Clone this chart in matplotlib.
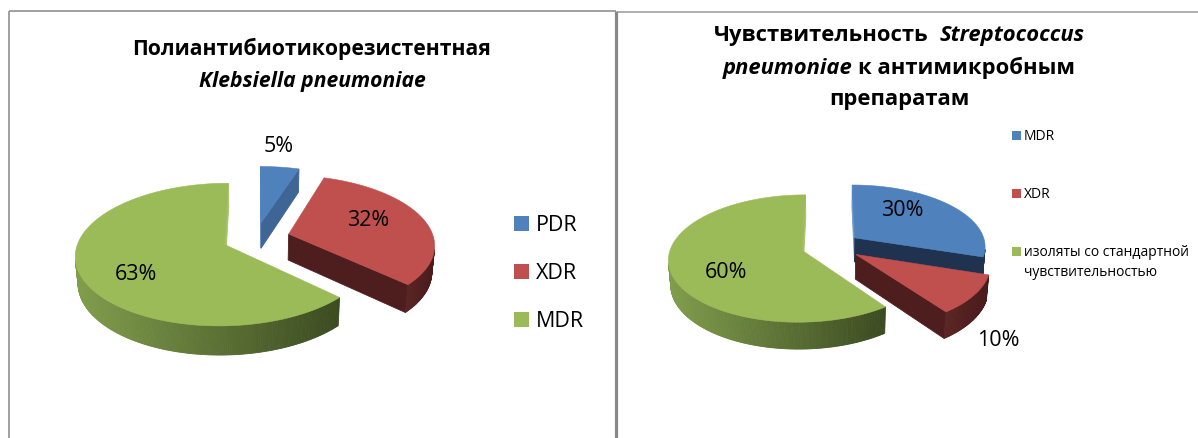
import numpy as np
import matplotlib
matplotlib.use("Agg")
import matplotlib.pyplot as plt
from matplotlib.patches import Polygon, Rectangle
from matplotlib.colors import to_rgb

plt.rcParams['font.family'] = ['Open Sans', 'DejaVu Sans']

# ---------------- data ----------------
kp_categories = ['PDR', 'XDR', 'MDR']
kp_values = [5, 32, 63]

sp_categories = ['MDR', 'XDR', 'изоляты со стандартной\nчувствительностью']
sp_values = [30, 10, 60]

# ---------------- style / layout ----------------
W, H = 1198, 438
ELEV = np.radians(28)
PERSP = 912.0

BLUE, RED, GREEN = '#4F81BD', '#C0504D', '#9BBB59'

left_geo = dict(cx=256, cy=238, r=145, explode=34, depth=30)
right_geo = dict(cx=831, cy=246, r=131, explode=30, depth=28)

# cut face colours: (start edge, end edge) of every slice
left_style = dict(
    top=[BLUE, RED, GREEN],
    side=[('#3E6595', '#3E6595'), ('#5A2424', '#4A1B1B'), ('#819E4C', '#3B4A20')],
    cut=[('#5A88C0', '#3E6595'), ('#4E1E1E', '#4E1E1E'), ('#3D4B22', '#A3C263')])
right_style = dict(
    top=[BLUE, RED, GREEN],
    side=[('#1F3350', '#1F3350'), ('#5A2424', '#4A1B1B'), ('#819E4C', '#3B4A20')],
    cut=[('#6A96CC', '#1F3350'), ('#4E1E1E', '#4E1E1E'), ('#3D4B22', '#A3C263')])

left_label_pos = [(279, 147), (368, 220), (136, 274)]
right_label_pos = [(902, 211), (998, 341), (726, 273)]
LABEL_SIZE = 15.5

fig = plt.figure(figsize=(W / 100, H / 100), dpi=100)
ax = fig.add_axes([0, 0, 1, 1])
ax.set_xlim(0, W)
ax.set_ylim(H, 0)
ax.axis('off')


def project(X, Y, Z, geo):
    s, c = np.sin(ELEV), np.cos(ELEV)
    depth = Y * c - Z * s
    f = PERSP / (PERSP + depth)
    return geo['cx'] + X * f, geo['cy'] - (Y * s + Z * c) * f


def lerp_color(c1, c2, t):
    a, b = np.array(to_rgb(c1)), np.array(to_rgb(c2))
    return tuple(a + (b - a) * t)


def draw_pie3d(ax, values, geo, style):
    s, c = np.sin(ELEV), np.cos(ELEV)
    cam = np.array([0.0, -PERSP * c, PERSP * s])
    R, E, T = geo['r'], geo['explode'], geo['depth']
    tot = float(sum(values))
    bounds = np.concatenate([[0], np.cumsum(values)]) / tot * 2 * np.pi
    slices = []
    for i in range(len(values)):
        t1, t2 = bounds[i], bounds[i + 1]
        mid = 0.5 * (t1 + t2)
        ox, oy = E * np.sin(mid), E * np.cos(mid)
        cdepth = (oy + 0.5 * R * np.cos(mid)) * c
        slices.append((cdepth, i, t1, t2, ox, oy))
    slices.sort(key=lambda q: -q[0])

    for _, i, t1, t2, ox, oy in slices:
        faces = []  # (depth, polygon, color)
        n = max(int(np.degrees(t2 - t1) * 1.5), 4)
        th = np.linspace(t1, t2, n + 1)
        strips = []
        for a, b in zip(th[:-1], th[1:]):
            m = 0.5 * (a + b)
            P = np.array([ox + R * np.sin(m), oy + R * np.cos(m), -T / 2])
            nrm = np.array([np.sin(m), np.cos(m), 0])
            if np.dot(nrm, cam - P) <= 0:
                continue
            xs, ys = [], []
            for (ang, z) in [(a, 0), (b, 0), (b, -T), (a, -T)]:
                px, py = project(ox + R * np.sin(ang), oy + R * np.cos(ang), z, geo)
                xs.append(px); ys.append(py)
            strips.append((P[1] * c - P[2] * s, np.c_[xs, ys]))
        if strips:
            xm = [np.mean(p[:, 0]) for _, p in strips]
            lo, hi = min(xm), max(xm)
            for (d, poly), x in zip(strips, xm):
                tt = 0 if hi == lo else (x - lo) / (hi - lo)
                faces.append((d, poly, lerp_color(style['side'][i][0], style['side'][i][1], tt)))
        for k, (ang, nrm) in enumerate([(t1, np.array([-np.cos(t1), np.sin(t1), 0])),
                                        (t2, np.array([np.cos(t2), -np.sin(t2), 0]))]):
            P = np.array([ox + 0.5 * R * np.sin(ang), oy + 0.5 * R * np.cos(ang), -T / 2])
            if np.dot(nrm, cam - P) <= 0:
                continue
            pts = [(ox, oy, 0), (ox + R * np.sin(ang), oy + R * np.cos(ang), 0),
                   (ox + R * np.sin(ang), oy + R * np.cos(ang), -T), (ox, oy, -T)]
            poly = np.array([project(*p, geo) for p in pts])
            faces.append((P[1] * c - P[2] * s, poly, style['cut'][i][k]))
        faces.sort(key=lambda q: -q[0])
        for _, poly, col in faces:
            ax.add_patch(Polygon(poly, closed=True, facecolor=col, edgecolor=col,
                                 linewidth=0.6, antialiased=True))
        tha = np.linspace(t1, t2, max(int(np.degrees(t2 - t1) * 2), 4))
        pts = [(ox, oy)] + [(ox + R * np.sin(a), oy + R * np.cos(a)) for a in tha]
        poly = np.array([project(x, y, 0, geo) for x, y in pts])
        ax.add_patch(Polygon(poly, closed=True, facecolor=style['top'][i],
                             edgecolor=style['top'][i], linewidth=0.4))


renderer = fig.canvas.get_renderer()


def text_width(txt, **kw):
    t = ax.text(0, 0, txt, **kw)
    bb = t.get_window_extent(renderer)
    t.remove()
    return bb.width


def rich_line(xc, y, pieces, size):
    widths, sp = [], []
    for txt, it, nsp in pieces:
        kw = dict(fontsize=size, fontweight='bold', fontstyle='italic' if it else 'normal')
        widths.append(text_width(txt, **kw))
        sp.append(nsp * (text_width('a a', **kw) - text_width('aa', **kw)))
    total = sum(widths) + sum(sp)
    x = xc - total / 2
    for (txt, it, nsp), w, g in zip(pieces, widths, sp):
        x += g
        ax.text(x, y, txt, fontsize=size, fontweight='bold',
                fontstyle='italic' if it else 'normal', ha='left', va='baseline',
                color='black')
        x += w


# panel borders
ax.plot([9, 616], [11, 11], color='#9A9A9A', lw=1.3, solid_capstyle='butt')
ax.plot([9, 9], [11, H], color='#9A9A9A', lw=1.3, solid_capstyle='butt')
ax.plot([617, W], [12, 12], color='#A8A8A8', lw=1.3, solid_capstyle='butt')
ax.plot([616, 616], [11, H], color='#888888', lw=2.3, solid_capstyle='butt')

# pies
draw_pie3d(ax, kp_values, left_geo, left_style)
draw_pie3d(ax, sp_values, right_geo, right_style)

for v, (x, y) in zip(kp_values, left_label_pos):
    ax.text(x, y, f'{v}%', fontsize=LABEL_SIZE, ha='center', va='center', color='black')
for v, (x, y) in zip(sp_values, right_label_pos):
    ax.text(x, y, f'{v}%', fontsize=LABEL_SIZE, ha='center', va='center', color='black')

# titles
TS_L, TS_R = 15.2, 15.8
rich_line(312, 55, [('Полиантибиотикорезистентная', False, 0)], TS_L)
rich_line(312, 87, [('Klebsiella pneumoniae', True, 0)], TS_L)
rich_line(899, 41, [('Чувствительность', False, 0), ('Streptococcus', True, 2)], TS_R)
rich_line(899, 74, [('pneumoniae', True, 0), ('к антимикробным', False, 1)], TS_R)
rich_line(899, 105, [('препаратам', False, 0)], TS_R)

# legends
for k, (lab, col) in enumerate(zip(kp_categories, left_style['top'])):
    yb = 231 + 48 * k
    ax.add_patch(Rectangle((514, yb - 15), 15, 15, facecolor=col, edgecolor='none'))
    ax.text(536, yb, lab, fontsize=15.5, ha='left', va='baseline', color='black')

right_leg_y = [140, 198, 256]
for lab, col, yb in zip(sp_categories, right_style['top'], right_leg_y):
    ax.add_patch(Rectangle((1012, yb - 9), 9, 9, facecolor=col, edgecolor='none'))
    lines = lab.split('\n')
    for j, ln in enumerate(lines):
        ax.text(1024, yb + 20 * j, ln, fontsize=10, ha='left', va='baseline', color='black')

fig.savefig('out.png', dpi=100, facecolor='white')
